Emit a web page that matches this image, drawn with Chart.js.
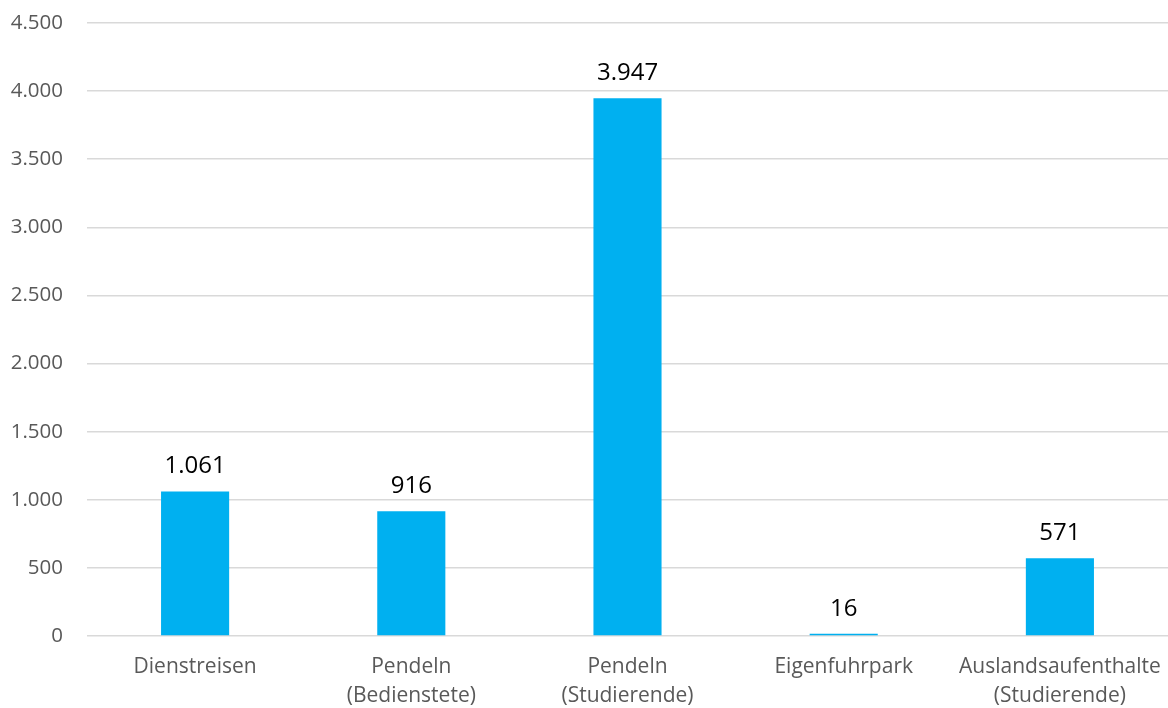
<!DOCTYPE html>
<html>
<head>
<meta charset="utf-8">
<script src="https://cdn.jsdelivr.net/npm/chart.js@4/dist/chart.umd.min.js"></script>
<style>
html,body{margin:0;padding:0;background:#fff;}
#wrap{width:1168px;height:708px;position:relative;}
</style>
</head>
<body>
<div id="wrap"><canvas id="c"></canvas></div>
<script>
const categories = [
  "Dienstreisen",
  ["Pendeln", "(Bedienstete)"],
  ["Pendeln", "(Studierende)"],
  "Eigenfuhrpark",
  ["Auslandsaufenthalte", "(Studierende)"]
];
const values = [1061, 916, 3947, 16, 571];
const yMin = 0, yMax = 4500, yStep = 500;

function fmt(n) {
  return String(Math.round(n)).replace(/\B(?=(\d{3})+(?!\d))/g, ".");
}

const FONT = "'Open Sans', 'Noto Sans', sans-serif";

const labelPlugin = {
  id: "valueLabels",
  afterDatasetsDraw(chart) {
    const ctx = chart.ctx;
    const meta = chart.getDatasetMeta(0);
    ctx.save();
    ctx.font = "24px " + FONT;
    ctx.fillStyle = "#000000";
    ctx.textAlign = "center";
    ctx.textBaseline = "middle";
    meta.data.forEach((bar, i) => {
      ctx.fillText(fmt(values[i]), bar.x, bar.y - 25);
    });
    ctx.restore();
  }
};

new Chart(document.getElementById("c"), {
  type: "bar",
  data: {
    labels: categories,
    datasets: [{
      data: values,
      backgroundColor: "#00B0F0",
      borderWidth: 0,
      categoryPercentage: 1.0,
      barPercentage: 0.315
    }]
  },
  options: {
    responsive: true,
    maintainAspectRatio: false,
    animation: false,
    layout: { padding: { top: 23, right: 0, bottom: 0, left: 0 } },
    plugins: { legend: { display: false }, tooltip: { enabled: false } },
    scales: {
      x: {
        grid: { display: false, drawTicks: false },
        border: { display: false },
        ticks: {
          color: "#595959",
          font: { family: FONT, size: 21, lineHeight: 1.4 },
          padding: 16,
          maxRotation: 0,
          autoSkip: false
        },
        afterFit(s) { s.height = 72; s.paddingLeft = 0; s.paddingRight = 0; }
      },
      y: {
        min: yMin,
        max: yMax,
        grid: { color: "#d9d9d9", lineWidth: 1.5, drawTicks: false },
        border: { display: false },
        ticks: {
          stepSize: yStep,
          color: "#595959",
          font: { family: FONT, size: 20.5 },
          padding: 24,
          callback: v => fmt(v)
        },
        afterFit(s) { s.width = 87; s.paddingTop = 0; s.paddingBottom = 0; }
      }
    }
  },
  plugins: [labelPlugin]
});
</script>
</body>
</html>
